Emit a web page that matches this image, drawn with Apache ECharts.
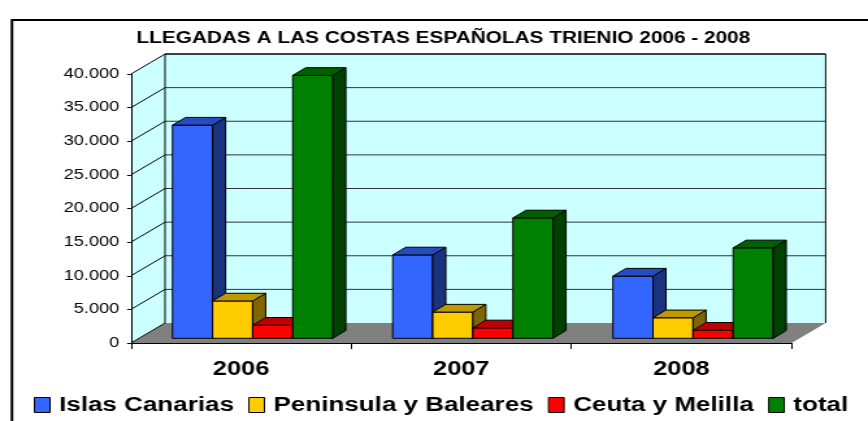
<!DOCTYPE html>
<html>
<head>
<meta charset="utf-8">
<title>Llegadas a las costas españolas</title>
<script src="https://cdn.jsdelivr.net/npm/echarts@6/dist/echarts.min.js"></script>
<style>
  html, body { margin: 0; padding: 0; background: #fff; overflow: hidden; }
  /* the original picture is stretched sideways, so draw narrow and widen */
  #main { width: 668px; height: 421px; transform: scaleX(1.2994); transform-origin: 0 0; }
</style>
</head>
<body>
<div id="main"></div>
<script>
var years = ['2006', '2007', '2008'];
var islasCanarias = [31700, 12400, 9250];
var peninsulaBaleares = [5550, 3900, 3050];
var ceutaMelilla = [1950, 1550, 1200];
var total = [39100, 17900, 13450];
var seriesNames = ['Islas Canarias', 'Peninsula y Baleares', 'Ceuta y Melilla', 'total'];
var yTicks = [0, 5000, 10000, 15000, 20000, 25000, 30000, 35000, 40000];

// front, top, side
var colors = [
  ['#3366FF', '#264CBF', '#1A3380'],
  ['#FFCC00', '#C09900', '#806600'],
  ['#FF0000', '#C00000', '#800000'],
  ['#008000', '#006000', '#004000']
];

// 3d look
var WALL_DX = 26.2, WALL_DY = -20;
var BAR_SHIFT_X = 8.9, BAR_SHIFT_Y = -4.7;
var BAR_DX = 10, BAR_DY = -7.7;
var BAR_FRAC = 0.182;

function fmt(v) {
  return String(v).replace(/\B(?=(\d{3})+(?!\d))/g, '.');
}

function wallItem(params, api) {
  var cs = params.coordSys;
  var L = cs.x, R = cs.x + cs.width, T = cs.y, B = cs.y + cs.height;
  var kids = [];
  kids.push({ type: 'polygon', shape: { points: [[L, B], [R, B], [R + WALL_DX, B + WALL_DY], [L + WALL_DX, B + WALL_DY]] },
    style: { fill: '#808080' } });
  kids.push({ type: 'polygon', shape: { points: [[L + WALL_DX, T + WALL_DY], [R + WALL_DX, T + WALL_DY], [R + WALL_DX, B + WALL_DY], [L + WALL_DX, B + WALL_DY]] },
    style: { fill: '#CCFFFF' } });
  kids.push({ type: 'polygon', shape: { points: [[L, T], [L + WALL_DX, T + WALL_DY], [L + WALL_DX, B + WALL_DY], [L, B]] },
    style: { fill: '#CCFFFF' } });
  yTicks.forEach(function (v) {
    var y = api.coord([0, v])[1];
    kids.push({ type: 'line', shape: { x1: L, y1: y, x2: L + WALL_DX, y2: y + WALL_DY }, style: { stroke: '#000', lineWidth: 1 } });
    if (v > 0) {
      kids.push({ type: 'line', shape: { x1: L + WALL_DX, y1: y + WALL_DY, x2: R + WALL_DX, y2: y + WALL_DY },
        style: { stroke: v === 40000 ? '#000' : '#333', lineWidth: v === 40000 ? 1.5 : 1 } });
    }
  });
  kids.push({ type: 'line', shape: { x1: L + WALL_DX, y1: T + WALL_DY, x2: L + WALL_DX, y2: B + WALL_DY }, style: { stroke: '#000', lineWidth: 1 } });
  kids.push({ type: 'line', shape: { x1: R + WALL_DX, y1: T + WALL_DY, x2: R + WALL_DX, y2: B + WALL_DY }, style: { stroke: '#000', lineWidth: 1 } });
  return { type: 'group', children: kids };
}

function barItem(k) {
  return function (params, api) {
    var cat = api.value(0), v = api.value(1);
    var base = api.coord([cat, 0]), top = api.coord([cat, v]);
    var bw = api.size([1, 0])[0] * BAR_FRAC;
    var x0 = base[0] + BAR_SHIFT_X + (k - 2) * bw, x1 = x0 + bw;
    var yb = base[1] + BAR_SHIFT_Y, yt = top[1] + BAR_SHIFT_Y;
    var c = colors[k];
    return { type: 'group', children: [
      { type: 'polygon', shape: { points: [[x0, yb], [x1, yb], [x1, yt], [x0, yt]] },
        style: { fill: c[0], stroke: '#000', lineWidth: 1 } },
      { type: 'polygon', shape: { points: [[x1, yb], [x1 + BAR_DX, yb + BAR_DY], [x1 + BAR_DX, yt + BAR_DY], [x1, yt]] },
        style: { fill: c[2], stroke: '#000', lineWidth: 1 } },
      { type: 'polygon', shape: { points: [[x0, yt], [x1, yt], [x1 + BAR_DX, yt + BAR_DY], [x0 + BAR_DX, yt + BAR_DY]] },
        style: { fill: c[1], stroke: '#000', lineWidth: 1 } }
    ] };
  };
}

function toData(arr) {
  return arr.map(function (v, i) { return [i, v]; });
}

var myChart = echarts.init(document.getElementById('main'));

var values = [islasCanarias, peninsulaBaleares, ceutaMelilla, total];
var series = [{
  type: 'custom',
  renderItem: wallItem,
  data: [[0, 0]],
  silent: true,
  z: 1
}];
values.forEach(function (arr, k) {
  series.push({
    name: seriesNames[k],
    type: 'custom',
    renderItem: barItem(k),
    data: toData(arr),
    encode: { x: 0, y: 1 },
    itemStyle: { color: colors[k][0] },
    z: 2 + k
  });
});

var option = {
  animation: false,
  title: {
    text: 'LLEGADAS A LAS COSTAS ESPAÑOLAS TRIENIO 2006 - 2008',
    left: 100,
    top: 26,
    textStyle: { fontFamily: 'Liberation Sans', fontSize: 16, fontWeight: 'bold', color: '#000' }
  },
  legend: {
    data: seriesNames,
    left: 21,
    top: 390,
    icon: 'rect',
    itemWidth: 12,
    itemHeight: 15,
    itemGap: 11,
    itemStyle: { borderColor: '#000', borderWidth: 1 },
    textStyle: { fontFamily: 'Liberation Sans', fontSize: 20, fontWeight: 'bold', color: '#000', padding: [0, 0, 0, 2] }
  },
  grid: { left: 100.8, right: 58.8, top: 74, bottom: 78 },
  xAxis: {
    type: 'category',
    data: years,
    z: 10,
    axisLine: { lineStyle: { color: '#000', width: 1 } },
    axisTick: { show: true, length: 6, lineStyle: { color: '#000' } },
    axisLabel: { margin: 17, fontFamily: 'Liberation Sans', fontSize: 19.5, fontWeight: 'bold', color: '#000' }
  },
  yAxis: {
    type: 'value',
    min: 0,
    max: 40000,
    interval: 5000,
    z: 10,
    axisLine: { show: true, lineStyle: { color: '#000', width: 1 } },
    axisTick: { show: true, length: 3, lineStyle: { color: '#000' } },
    splitLine: { show: false },
    axisLabel: { margin: 9, formatter: fmt, fontFamily: 'Liberation Sans', fontSize: 14, color: '#000' }
  },
  graphic: [{
    type: 'rect',
    shape: { x: 9.2, y: 20, width: 700, height: 450 },
    style: { fill: 'none', stroke: '#000', lineWidth: 2 },
    silent: true
  }],
  series: series
};

myChart.setOption(option);
</script>
</body>
</html>
